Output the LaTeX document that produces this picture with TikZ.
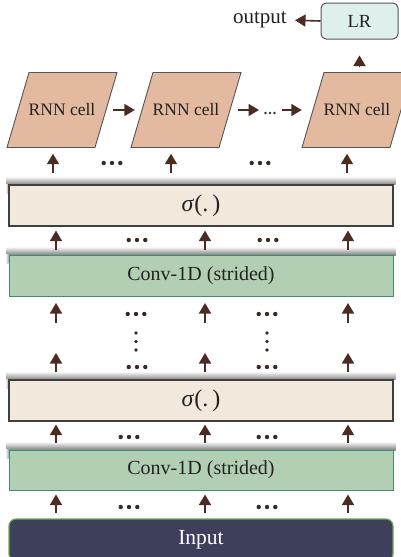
\documentclass[tikz,border=0pt]{standalone}
\usepackage{fontspec}
\setmainfont{Liberation Serif}
\usetikzlibrary{arrows.meta,calc,backgrounds}
\definecolor{arrowc}{HTML}{4B2B22}
\definecolor{dotc}{HTML}{3A2A25}
\definecolor{textc}{HTML}{222222}
\definecolor{rnnfill}{HTML}{E3B9A0}
\definecolor{rnndraw}{HTML}{555555}
\definecolor{lrfill}{HTML}{DDF0EE}
\definecolor{sigfill}{HTML}{F3E8DC}
\definecolor{sigdraw}{HTML}{404040}
\definecolor{convfill}{HTML}{B3CFB3}
\definecolor{convdraw}{HTML}{3F8F6A}
\definecolor{inputfill}{HTML}{3D3F5B}
\definecolor{inputdraw}{HTML}{6BAA4B}
\begin{document}
\begin{tikzpicture}[x=1pt,y=-1pt,
  arr/.style={draw=arrowc, line width=1.6pt, -{Triangle[width=12pt,length=10.5pt]}},
  layer/.style={minimum width=384pt, minimum height=41pt, inner sep=0pt, text=textc},
  sigbox/.style={layer, fill=sigfill, draw=sigdraw, line width=1.2pt, font=\fontsize{24}{26}\selectfont},
  convbox/.style={layer, fill=convfill, draw=convdraw, line width=1pt, font=\fontsize{20}{22}\selectfont},
  inbox/.style={layer, fill=inputfill, draw=inputdraw, line width=1.2pt, rounded corners=7pt, text=white, font=\fontsize{21.5}{24}\selectfont},
  lrbox/.style={minimum width=77pt, minimum height=36pt, inner sep=0pt, fill=lrfill, draw=rnndraw, line width=1pt, rounded corners=5pt, text=textc, font=\fontsize{18.5}{20}\selectfont},
  rnntext/.style={minimum width=88pt, minimum height=75pt, inner sep=0pt, text=textc, font=\fontsize{17.5}{20}\selectfont},
  rnnshape/.style={fill=rnnfill, draw=rnndraw, line width=0.9pt},
  plain/.style={inner sep=0pt, text=textc, font=\fontsize{21}{22}\selectfont},
  hd/.pic={\fill[dotc] (-8.3,0) circle (2.2pt) (0,0) circle (2.2pt) (8.3,0) circle (2.2pt);},
  vd/.pic={\fill[dotc] (0,-8.5) circle (1.8pt) (0,0) circle (1.8pt) (0,8.5) circle (1.8pt);},
  sd/.pic={\fill[dotc] (-4.5,0) circle (1.3pt) (0,0) circle (1.3pt) (4.5,0) circle (1.3pt);}
]
\useasboundingbox (0,0) rectangle (401,557);

% columns
\coordinate (ta) at (53,0);
\coordinate (tb) at (171,0);
\coordinate (tc) at (347,0);
\coordinate (ca) at (56,0);
\coordinate (cb) at (205,0);
\coordinate (cc) at (348,0);

% boxes
\node[lrbox] (lr) at (359.5,21) {LR};
\node[plain, anchor=east] (out) at (287,20) {output};
\node[rnntext] (r1) at (62,110) {RNN cell};
\node[rnntext] (r2) at (186,110) {RNN cell};
\node[rnntext] (r3) at (357,110) {RNN cell};
\coordinate (ell) at (270,110);
\node[sigbox] (s1) at (201,205.5) {\textit{σ}(.\,)};
\node[convbox] (c1) at (201,275.5) {Conv-1D (strided)};
\node[sigbox] (s2) at (201,400.5) {\textit{σ}(.\,)};
\node[convbox, minimum height=40pt] (c2) at (201,470) {Conv-1D (strided)};
\node[inbox, minimum height=42pt] (in) at (201,540) {Input};

\coordinate (u) at (0,323);
\coordinate (w) at (0,353);

\begin{scope}[on background layer]
  \foreach \r in {r1,r2,r3}{
    \draw[rnnshape] ($(\r.center)+(-55,37.5)$) -- ($(\r.center)+(33,37.5)$)
      -- ($(\r.center)+(55,-37.5)$) -- ($(\r.center)+(-33,-37.5)$) -- cycle;
  }
  \foreach \b in {s1,c1,s2,c2}{
    \shade[top color=white, bottom color=black!50]
      ([xshift=-2pt,yshift=8pt]\b.north west) rectangle ([xshift=2pt,yshift=-0.5pt]\b.north east);
    \shade[left color=white, right color=black!35]
      ([xshift=-3pt,yshift=0pt]\b.north west) rectangle ([yshift=-9pt]\b.north west);
  }
\end{scope}

% top connectors
\draw[arr, shorten >=8pt] (lr.west) -- (out.east);
\draw[arr, shorten <=5.5pt, shorten >=16pt] (r3.north -| lr) -- (lr.south);
\draw[arr, shorten <=7pt, shorten >=7pt] (r1) -- (r2);
\draw[arr, shorten <=8pt, shorten >=11pt] (r2) -- (ell);
\draw[arr, shorten <=12pt, shorten >=11pt] (ell) -- (r3);
\pic at ([yshift=-3pt]ell) {sd};

% row A
\foreach \c in {ta,tb,tc}{
  \draw[arr, shorten <=11pt, shorten >=6pt] (s1.north -| \c) -- (r1.south -| \c);
}
\pic at (112,163) {hd};
\pic at (260,163) {hd};

% row B
\foreach \c in {ca,cb,cc}{
  \draw[arr, shorten <=5pt, shorten >=4pt] (c1.north -| \c) -- (s1.south -| \c);
}
\pic at (137,240) {hd};
\pic at (268,240) {hd};

% row C
\foreach \c in {ca,cb,cc}{
  \draw[arr, shorten >=6.5pt] (u -| \c) -- (c1.south -| \c);
}
\pic at (136,314) {hd};
\pic at (267,314) {hd};
\pic at (136,341.5) {vd};
\pic at (267,341.5) {vd};

% row D
\foreach \c in {ca,cb,cc}{
  \draw[arr, shorten <=7pt] (s2.north -| \c) -- (w -| \c);
}
\pic at (137,367) {hd};
\pic at (267,367) {hd};

% row E
\foreach \c in {ca,cb,cc}{
  \draw[arr, shorten <=7pt, shorten >=3pt] (c2.north -| \c) -- (s2.south -| \c);
}
\pic at (129,437) {hd};
\pic at (267,437) {hd};

% row F
\foreach \c in {ca,cb,cc}{
  \draw[arr, shorten <=5pt, shorten >=4pt] (in.north -| \c) -- (c2.south -| \c);
}
\pic at (129,507) {hd};
\pic at (267,507) {hd};
\end{tikzpicture}
\end{document}
